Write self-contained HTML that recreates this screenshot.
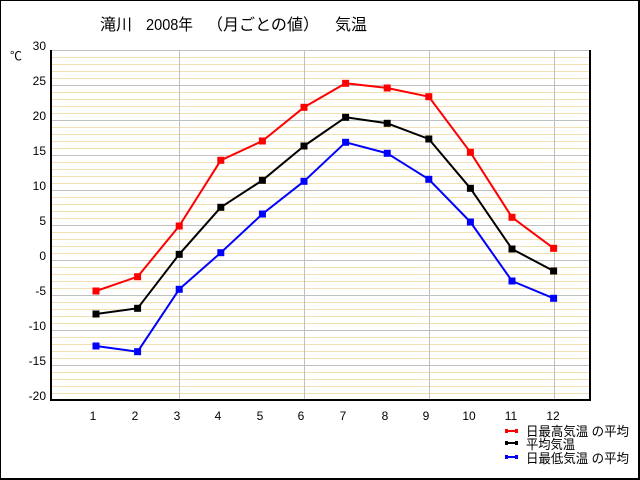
<!DOCTYPE html>
<html><head><meta charset="utf-8"><style>
html,body{margin:0;padding:0;background:#fff;}
svg{display:block;}
text{font-family:"Liberation Sans","Noto Sans CJK JP",sans-serif;}
</style></head><body>
<svg width="640" height="480" viewBox="0 0 640 480" xmlns="http://www.w3.org/2000/svg">
<rect x="0" y="0" width="640" height="480" fill="#fff"/>
<!-- outer frame -->
<rect x="0" y="0" width="640" height="1" fill="#000"/>
<rect x="0" y="0" width="1" height="480" fill="#000"/>
<rect x="638" y="0" width="2" height="480" fill="#000"/>
<rect x="0" y="478" width="640" height="2" fill="#000"/>

<!-- title -->
<g font-size="16" fill="#000">
<text x="100" y="30" textLength="32" lengthAdjust="spacingAndGlyphs">滝川</text>
<text x="146" y="30" textLength="47" lengthAdjust="spacingAndGlyphs">2008年</text>
<text x="207" y="30" textLength="112" lengthAdjust="spacingAndGlyphs">（月ごとの値）</text>
<text x="335" y="30" textLength="32" lengthAdjust="spacingAndGlyphs">気温</text>
</g>

<!-- minor grid -->
<g stroke="#F2DFB4" stroke-width="1">
<line x1="51" x2="590" y1="57.5" y2="57.5"/><line x1="51" x2="590" y1="64.5" y2="64.5"/><line x1="51" x2="590" y1="71.5" y2="71.5"/><line x1="51" x2="590" y1="78.5" y2="78.5"/>
<line x1="51" x2="590" y1="92.5" y2="92.5"/><line x1="51" x2="590" y1="99.5" y2="99.5"/><line x1="51" x2="590" y1="106.5" y2="106.5"/><line x1="51" x2="590" y1="113.5" y2="113.5"/>
<line x1="51" x2="590" y1="127.5" y2="127.5"/><line x1="51" x2="590" y1="134.5" y2="134.5"/><line x1="51" x2="590" y1="141.5" y2="141.5"/><line x1="51" x2="590" y1="148.5" y2="148.5"/>
<line x1="51" x2="590" y1="162.5" y2="162.5"/><line x1="51" x2="590" y1="169.5" y2="169.5"/><line x1="51" x2="590" y1="176.5" y2="176.5"/><line x1="51" x2="590" y1="183.5" y2="183.5"/>
<line x1="51" x2="590" y1="197.5" y2="197.5"/><line x1="51" x2="590" y1="204.5" y2="204.5"/><line x1="51" x2="590" y1="211.5" y2="211.5"/><line x1="51" x2="590" y1="218.5" y2="218.5"/>
<line x1="51" x2="590" y1="232.5" y2="232.5"/><line x1="51" x2="590" y1="239.5" y2="239.5"/><line x1="51" x2="590" y1="246.5" y2="246.5"/><line x1="51" x2="590" y1="253.5" y2="253.5"/>
<line x1="51" x2="590" y1="267.5" y2="267.5"/><line x1="51" x2="590" y1="274.5" y2="274.5"/><line x1="51" x2="590" y1="281.5" y2="281.5"/><line x1="51" x2="590" y1="288.5" y2="288.5"/>
<line x1="51" x2="590" y1="302.5" y2="302.5"/><line x1="51" x2="590" y1="309.5" y2="309.5"/><line x1="51" x2="590" y1="316.5" y2="316.5"/><line x1="51" x2="590" y1="323.5" y2="323.5"/>
<line x1="51" x2="590" y1="337.5" y2="337.5"/><line x1="51" x2="590" y1="344.5" y2="344.5"/><line x1="51" x2="590" y1="351.5" y2="351.5"/><line x1="51" x2="590" y1="358.5" y2="358.5"/>
<line x1="51" x2="590" y1="372.5" y2="372.5"/><line x1="51" x2="590" y1="379.5" y2="379.5"/><line x1="51" x2="590" y1="386.5" y2="386.5"/><line x1="51" x2="590" y1="393.5" y2="393.5"/>
</g>
<!-- major grid -->
<g stroke="#C0C0C0" stroke-width="1">
<line x1="51" x2="590" y1="50.5" y2="50.5"/>
<line x1="51" x2="590" y1="85.5" y2="85.5"/>
<line x1="51" x2="590" y1="120.5" y2="120.5"/>
<line x1="51" x2="590" y1="155.5" y2="155.5"/>
<line x1="51" x2="590" y1="190.5" y2="190.5"/>
<line x1="51" x2="590" y1="225.5" y2="225.5"/>
<line x1="51" x2="590" y1="260.5" y2="260.5"/>
<line x1="51" x2="590" y1="295.5" y2="295.5"/>
<line x1="51" x2="590" y1="330.5" y2="330.5"/>
<line x1="51" x2="590" y1="365.5" y2="365.5"/>
<line x1="179.5" x2="179.5" y1="50" y2="400"/>
<line x1="304.5" x2="304.5" y1="50" y2="400"/>
<line x1="429.5" x2="429.5" y1="50" y2="400"/>
<line x1="554.5" x2="554.5" y1="50" y2="400"/>
</g>
<!-- axes -->
<rect x="50" y="50" width="2" height="351" fill="#000"/>
<rect x="50" y="399" width="541" height="2" fill="#000"/>
<rect x="589" y="50" width="2" height="351" fill="#000"/>

<!-- y labels -->
<g font-size="12" fill="#000" text-anchor="end">
<text x="46" y="50">30</text>
<text x="46" y="85">25</text>
<text x="46" y="120">20</text>
<text x="46" y="155">15</text>
<text x="46" y="190">10</text>
<text x="46" y="225">5</text>
<text x="46" y="260">0</text>
<text x="46" y="295">-5</text>
<text x="46" y="330">-10</text>
<text x="46" y="365">-15</text>
<text x="46" y="400">-20</text>
</g>
<text x="10" y="60" font-size="12" fill="#000">℃</text>

<!-- x labels -->
<g font-size="12" fill="#000" text-anchor="middle">
<text x="93" y="420">1</text>
<text x="135" y="420">2</text>
<text x="177" y="420">3</text>
<text x="218" y="420">4</text>
<text x="260" y="420">5</text>
<text x="301" y="420">6</text>
<text x="343" y="420">7</text>
<text x="385" y="420">8</text>
<text x="426" y="420">9</text>
<text x="469" y="420">10</text>
<text x="511" y="420">11</text>
<text x="553" y="420">12</text>
</g>

<!-- series -->
<g fill="none" stroke-width="2" stroke-linejoin="round">
<polyline stroke="#FF0000" points="96,291 137.6,276.7 179.2,226 220.8,160.3 262.4,141 304,107.3 345.6,83.3 387.2,88 428.8,96.7 470.4,152.3 512,217.3 553.6,248.3"/>
<polyline stroke="#000000" points="96,314 137.6,308.3 179.2,254.3 220.8,207.3 262.4,180.3 304,146 345.6,117.3 387.2,123.3 428.8,139 470.4,188.3 512,249 553.6,271"/>
<polyline stroke="#0000FF" points="96,346 137.6,351.7 179.2,289.3 220.8,252.7 262.4,214 304,181.3 345.6,142.3 387.2,153.3 428.8,179.3 470.4,222 512,281 553.6,298.3"/>
</g>
<g fill="#FF0000">
<rect x="92.5" y="287.5" width="7" height="7"/><rect x="134.1" y="273.2" width="7" height="7"/><rect x="175.7" y="222.5" width="7" height="7"/><rect x="217.3" y="156.8" width="7" height="7"/><rect x="258.9" y="137.5" width="7" height="7"/><rect x="300.5" y="103.8" width="7" height="7"/><rect x="342.1" y="79.8" width="7" height="7"/><rect x="383.7" y="84.5" width="7" height="7"/><rect x="425.3" y="93.2" width="7" height="7"/><rect x="466.9" y="148.8" width="7" height="7"/><rect x="508.5" y="213.8" width="7" height="7"/><rect x="550.1" y="244.8" width="7" height="7"/>
</g>
<g fill="#000000">
<rect x="92.5" y="310.5" width="7" height="7"/><rect x="134.1" y="304.8" width="7" height="7"/><rect x="175.7" y="250.8" width="7" height="7"/><rect x="217.3" y="203.8" width="7" height="7"/><rect x="258.9" y="176.8" width="7" height="7"/><rect x="300.5" y="142.5" width="7" height="7"/><rect x="342.1" y="113.8" width="7" height="7"/><rect x="383.7" y="119.8" width="7" height="7"/><rect x="425.3" y="135.5" width="7" height="7"/><rect x="466.9" y="184.8" width="7" height="7"/><rect x="508.5" y="245.5" width="7" height="7"/><rect x="550.1" y="267.5" width="7" height="7"/>
</g>
<g fill="#0000FF">
<rect x="92.5" y="342.5" width="7" height="7"/><rect x="134.1" y="348.2" width="7" height="7"/><rect x="175.7" y="285.8" width="7" height="7"/><rect x="217.3" y="249.2" width="7" height="7"/><rect x="258.9" y="210.5" width="7" height="7"/><rect x="300.5" y="177.8" width="7" height="7"/><rect x="342.1" y="138.8" width="7" height="7"/><rect x="383.7" y="149.8" width="7" height="7"/><rect x="425.3" y="175.8" width="7" height="7"/><rect x="466.9" y="218.5" width="7" height="7"/><rect x="508.5" y="277.5" width="7" height="7"/><rect x="550.1" y="294.8" width="7" height="7"/>
</g>

<!-- legend -->
<rect x="505" y="430" width="13" height="2" fill="#FF0000"/>
<rect x="505" y="429" width="3" height="4" fill="#FF0000"/><rect x="515" y="429" width="3" height="4" fill="#FF0000"/>
<rect x="505" y="442" width="13" height="2" fill="#000"/>
<rect x="505" y="441" width="3" height="4" fill="#000"/><rect x="515" y="441" width="3" height="4" fill="#000"/>
<rect x="505" y="456" width="13" height="2" fill="#0000FF"/>
<rect x="505" y="455" width="3" height="4" fill="#0000FF"/><rect x="515" y="455" width="3" height="4" fill="#0000FF"/>
<g font-size="13" fill="#000">
<text x="526" y="436" textLength="103" lengthAdjust="spacingAndGlyphs">日最高気温 の平均</text>
<text x="526" y="449" textLength="49" lengthAdjust="spacingAndGlyphs">平均気温</text>
<text x="526" y="463" textLength="103" lengthAdjust="spacingAndGlyphs">日最低気温 の平均</text>
</g>
</svg>
</body></html>
